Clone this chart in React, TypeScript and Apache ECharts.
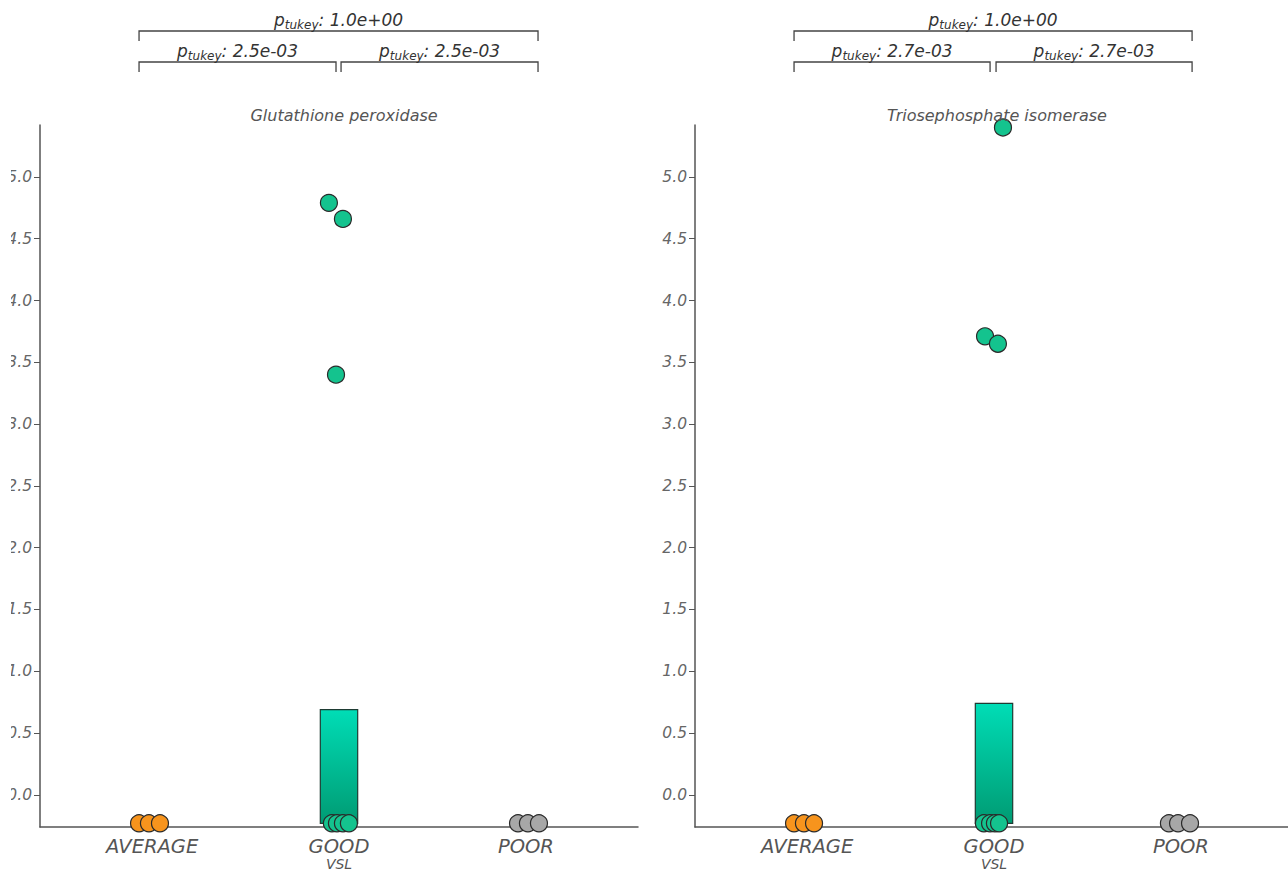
import React, { useEffect, useRef } from "react";
import * as echarts from "echarts";

const categories = ["AVERAGE", "GOOD", "POOR"];
const panelTitles = ["Glutathione peroxidase", "Triosephosphate isomerase"];
const xAxisName = "VSL";
const yTicks = [0, 0.5, 1, 1.5, 2, 2.5, 3, 3.5, 4, 4.5, 5];

// bar (GOOD group) : top value, base value
const barTops = [0.69, 0.74];
const barBase = -0.23;

// Left panel points (jittered x, y)
const avgXL = [0.93, 0.983, 1.042];
const avgYL = [-0.23, -0.23, -0.23];
const goodXL = [1.962, 1.989, 2.021, 2.053, 1.946, 2.021, 1.984];
const goodYL = [-0.23, -0.23, -0.23, -0.23, 4.79, 4.66, 3.4];
const poorXL = [2.958, 3.011, 3.07];
const poorYL = [-0.23, -0.23, -0.23];

// Right panel points
const avgXR = [0.93, 0.983, 1.037];
const avgYR = [-0.23, -0.23, -0.23];
const goodXR = [1.946, 1.979, 2.005, 2.027, 2.048, 1.952, 2.021];
const goodYR = [-0.23, -0.23, -0.23, -0.23, 5.4, 3.71, 3.65];
const poorXR = [2.936, 2.985, 3.049];
const poorYR = [-0.23, -0.23, -0.23];

// Tukey comparisons: [x start, x end, level(0 top,1 lower), p-value label]
const tukeyL: [number, number, number, string][] = [
  [0.93, 3.065, 0, "1.0e+00"],
  [0.93, 1.984, 1, "2.5e-03"],
  [2.011, 3.065, 1, "2.5e-03"],
];
const tukeyR: [number, number, number, string][] = [
  [0.93, 3.06, 0, "1.0e+00"],
  [0.93, 1.979, 1, "2.7e-03"],
  [2.011, 3.06, 1, "2.7e-03"],
];

const FONT = "DejaVu Sans";
const COLORS = ["#F7941D", "#14C38E", "#A7A7A7"];

const zip = (xs: number[], ys: number[]) => xs.map((x, i) => [x, ys[i]]);

export default function App() {
  const ref = useRef<HTMLDivElement>(null);
  useEffect(() => {
    if (!ref.current) return;
    const chart = echarts.init(ref.current, null, { renderer: "svg" });
    const grids = [
      { left: 40, top: 125, width: 598, height: 702, outerBoundsMode: "none", containLabel: false },
      { left: 695, top: 125, width: 598, height: 702, outerBoundsMode: "none", containLabel: false },
    ];
    const mkX = (i: number) => ({
      type: "value",
      gridIndex: i,
      min: 0.4,
      max: 3.6,
      name: xAxisName,
      nameLocation: "middle",
      nameGap: 30,
      nameMoveOverlap: false,
      nameTextStyle: { fontFamily: FONT, fontStyle: "italic", fontSize: 14, color: "#555" },
      axisLine: { show: true, onZero: false, lineStyle: { color: "#555", width: 1.5 } },
      axisTick: { show: false },
      splitLine: { show: false },
      axisLabel: {
        customValues: [1, 2, 3],
        formatter: (v: number) => categories[Math.round(v) - 1],
        fontFamily: FONT,
        fontStyle: "italic",
        fontSize: 19.5,
        color: "#555",
        margin: 9,
      },
    });
    const mkY = (i: number) => ({
      type: "value",
      gridIndex: i,
      min: -0.26,
      max: 5.42,
      axisLine: { show: true, onZero: false, lineStyle: { color: "#555", width: 1.5 } },
      axisTick: { show: true, customValues: yTicks, length: 6, lineStyle: { color: "#555" } },
      splitLine: { show: false },
      axisLabel: {
        customValues: yTicks,
        formatter: (v: number) => v.toFixed(1),
        fontFamily: FONT,
        fontStyle: "italic",
        fontSize: 15.5,
        color: "#666",
        margin: 8,
      },
    });
    const barGrad = new echarts.graphic.LinearGradient(0, 0, 0, 1, [
      { offset: 0, color: "#00DDB6" },
      { offset: 1, color: "#009B73" },
    ]);
    const mkBar = (i: number) => ({
      type: "custom",
      xAxisIndex: i,
      yAxisIndex: i,
      data: [[2, barTops[i], barBase]],
      encode: { x: 0, y: 1 },
      z: 2,
      renderItem: (params: any, api: any) => {
        const x = api.value(0);
        const p1 = api.coord([x - 0.1, api.value(1)]);
        const p2 = api.coord([x + 0.1, api.value(2)]);
        return {
          type: "rect",
          shape: { x: p1[0], y: p1[1], width: p2[0] - p1[0], height: p2[1] - p1[1] },
          style: { fill: barGrad, stroke: "#1E3B33", lineWidth: 1.2 },
        };
      },
    });
    const mkScatter = (i: number, data: number[][], color: string) => ({
      type: "scatter",
      xAxisIndex: i,
      yAxisIndex: i,
      data,
      symbolSize: 17,
      z: 3,
      itemStyle: { color, borderColor: "#2A2A2A", borderWidth: 1.2, opacity: 1 },
    });
    chart.setOption({
      animation: false,
      backgroundColor: "#fff",
      title: panelTitles.map((t, i) => ({
        text: t,
        left: grids[i].left + grids[i].width / 2 - (i === 1 ? 2 : 0),
        top: 102,
        textAlign: "center",
        textStyle: { fontFamily: FONT, fontStyle: "italic", fontWeight: "normal", fontSize: 16, color: "#555" },
      })),
      grid: grids,
      xAxis: [mkX(0), mkX(1)],
      yAxis: [mkY(0), mkY(1)],
      series: [
        mkBar(0),
        mkScatter(0, zip(avgXL, avgYL), COLORS[0]),
        mkScatter(0, zip(goodXL, goodYL), COLORS[1]),
        mkScatter(0, zip(poorXL, poorYL), COLORS[2]),
        mkBar(1),
        mkScatter(1, zip(avgXR, avgYR), COLORS[0]),
        mkScatter(1, zip(goodXR, goodYR), COLORS[1]),
        mkScatter(1, zip(poorXR, poorYR), COLORS[2]),
      ],
    });
    const levelY = [31, 62];
    const graphics: any[] = [];
    [tukeyL, tukeyR].forEach((list, i) => {
      list.forEach(([a, b, lvl, p]) => {
        const xa = chart.convertToPixel({ xAxisIndex: i } as any, a) as number;
        const xb = chart.convertToPixel({ xAxisIndex: i } as any, b) as number;
        const y = levelY[lvl];
        graphics.push({
          type: "polyline",
          shape: { points: [[xa, y + 10], [xa, y], [xb, y], [xb, y + 10]] },
          style: { stroke: "#444", lineWidth: 1.3, fill: null },
        });
        graphics.push({
          type: "text",
          x: (xa + xb) / 2,
          y: y - 11,
          style: {
            text: `{p|p}{s|tukey}{t|: ${p}}`,
            align: "center",
            verticalAlign: "middle",
            rich: {
              p: { fontFamily: FONT, fontStyle: "italic", fontSize: 17, lineHeight: 22, fill: "#333", verticalAlign: "middle" },
              s: { fontFamily: FONT, fontStyle: "italic", fontSize: 12, lineHeight: 12, fill: "#333", verticalAlign: "bottom" },
              t: { fontFamily: FONT, fontStyle: "italic", fontSize: 17, lineHeight: 22, fill: "#333", verticalAlign: "middle" },
            },
          },
        });
      });
    });
    // left edge of the original figure is cropped
    graphics.push({ type: "rect", left: 0, top: 0, shape: { x: 0, y: 0, width: 11, height: 872 }, style: { fill: "#fff" }, z: 100 });
    chart.setOption({ graphic: graphics });
    return () => chart.dispose();
  }, []);
  return (
    <div
      ref={ref}
      style={{ position: "absolute", left: 0, top: 0, width: 1288, height: 872, background: "#fff" }}
    />
  );
}
